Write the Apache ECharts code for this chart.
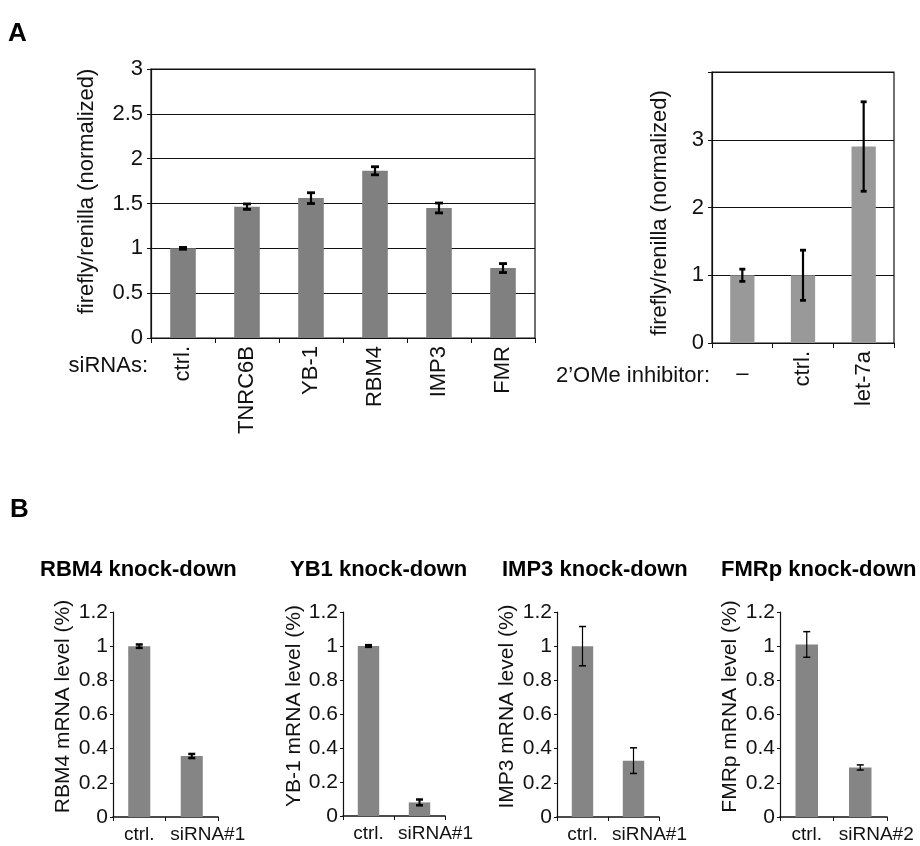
<!DOCTYPE html>
<html>
<head>
<meta charset="utf-8">
<script src="https://cdn.jsdelivr.net/npm/echarts@6/dist/echarts.min.js"></script>
<style>
html,body{margin:0;padding:0;background:#fff;}
#chart{width:920px;height:846px;}
</style>
</head>
<body>
<div id="chart"></div>
<script>
// ---------- DATA ----------
const siRNAs = ['ctrl.', 'TNRC6B', 'YB-1', 'RBM4', 'IMP3', 'FMR'];
const siRNAValues = [1.0, 1.465, 1.56, 1.865, 1.45, 0.78];
const siRNAErrors = [0.01, 0.03, 0.06, 0.045, 0.055, 0.05];
const siRNATicks = [0, 0.5, 1, 1.5, 2, 2.5, 3];

const inhibitors = ['–', 'ctrl.', 'let-7a'];
const inhibitorValues = [1.0, 1.0, 2.9];
const inhibitorErrors = [0.09, 0.37, 0.66];
const inhibitorTicks = [0, 1, 2, 3];

const kdTitles = ['RBM4 knock-down', 'YB1 knock-down', 'IMP3 knock-down', 'FMRp knock-down'];
const kdAxisNames = ['RBM4 mRNA level (%)', 'YB-1 mRNA level (%)', 'IMP3 mRNA level (%)', 'FMRp mRNA level (%)'];
const rbm4Categories = ['ctrl.', 'siRNA#1'];
const rbm4Values = [1.0, 0.357];
const rbm4Errors = [0.01, 0.012];
const yb1Categories = ['ctrl.', 'siRNA#1'];
const yb1Values = [1.0, 0.08];
const yb1Errors = [0.005, 0.017];
const imp3Categories = ['ctrl.', 'siRNA#1'];
const imp3Values = [1.0, 0.33];
const imp3Errors = [0.115, 0.075];
const fmrpCategories = ['ctrl.', 'siRNA#2'];
const fmrpValues = [1.01, 0.29];
const fmrpErrors = [0.075, 0.015];
const kdTicks = ['0', '0.2', '0.4', '0.6', '0.8', '1', '1.2'];

// ---------- CHART ----------
const FONT = "'Liberation Sans', Arial, Helvetica, sans-serif";
const chart = echarts.init(document.getElementById('chart'), null, {renderer: 'canvas'});

function errData(vals, errs) {
  return vals.map((v, i) => [i, v - errs[i], v + errs[i]]);
}
function errRender(capHalf, lw, capLw) {
  return function (params, api) {
    const x = api.value(0);
    const p1 = api.coord([x, api.value(1)]);
    const p2 = api.coord([x, api.value(2)]);
    const st = {stroke: '#000', lineWidth: lw};
    const cst = {stroke: '#000', lineWidth: capLw};
    return {
      type: 'group',
      children: [
        {type: 'line', shape: {x1: p1[0], y1: p1[1], x2: p2[0], y2: p2[1]}, style: st},
        {type: 'line', shape: {x1: p1[0] - capHalf, y1: p1[1], x2: p1[0] + capHalf, y2: p1[1]}, style: cst},
        {type: 'line', shape: {x1: p2[0] - capHalf, y1: p2[1], x2: p2[0] + capHalf, y2: p2[1]}, style: cst}
      ]
    };
  };
}

const black = '#111';
const axisLineStyle = {lineStyle: {color: black, width: 1.2}};

const grids = [
  {left: 151, top: 69, width: 384, height: 269, show: true, borderColor: black, borderWidth: 1.2},
  {left: 712, top: 72, width: 182, height: 271, show: true, borderColor: black, borderWidth: 1.2},
  {left: 113, top: 612, width: 105, height: 205},
  {left: 343, top: 612, width: 102, height: 204},
  {left: 557, top: 612, width: 102, height: 205},
  {left: 780, top: 612, width: 107, height: 205}
];

const kdCats = [rbm4Categories, yb1Categories, imp3Categories, fmrpCategories];
const kdVals = [rbm4Values, yb1Values, imp3Values, fmrpValues];
const kdErrs = [rbm4Errors, yb1Errors, imp3Errors, fmrpErrors];
const kdLw = [2, 2, 1.2, 1.2];
const kdCapLw = [2.5, 2.5, 1.5, 1.5];

const xAxes = [
  {gridIndex: 0, type: 'category', data: siRNAs, axisLine: axisLineStyle,
   axisTick: {show: true, length: 5, interval: 0, lineStyle: {color: black}},
   axisLabel: {rotate: 90, margin: 8, fontSize: 22, color: black, fontFamily: FONT, interval: 0}},
  {gridIndex: 1, type: 'category', data: inhibitors, axisLine: axisLineStyle,
   axisTick: {show: true, length: 5, interval: 0, lineStyle: {color: black}},
   axisLabel: {rotate: 90, margin: 8, fontSize: 22, color: black, fontFamily: FONT, interval: 0,
     formatter: v => (v === '–' ? '' : v)}}
];
const yAxes = [
  {gridIndex: 0, type: 'value', min: 0, max: 3, interval: 0.5,
   axisLine: {show: true, lineStyle: {color: black, width: 1.2}},
   axisTick: {show: true, length: 4, lineStyle: {color: black}},
   splitLine: {show: true, lineStyle: {color: black, width: 1}},
   axisLabel: {margin: 8, fontSize: 22, color: black, fontFamily: FONT,
     formatter: v => String(siRNATicks.find(t => Math.abs(t - v) < 1e-6) ?? v)},
   name: 'firefly/renilla (normalized)', nameLocation: 'middle', nameGap: 64, nameRotate: 90,
   nameTextStyle: {fontSize: 22, color: black, fontFamily: FONT, verticalAlign: 'middle', padding: [0, 0, 0, 24]}},
  {gridIndex: 1, type: 'value', min: 0, max: 4, interval: 1,
   axisLine: {show: true, lineStyle: {color: black, width: 1.2}},
   axisTick: {show: true, length: 4, lineStyle: {color: black}},
   splitLine: {show: true, lineStyle: {color: black, width: 1}},
   axisLabel: {margin: 8, fontSize: 22, color: black, fontFamily: FONT,
     formatter: v => (inhibitorTicks.indexOf(v) >= 0 ? String(v) : '')},
   name: 'firefly/renilla (normalized)', nameLocation: 'middle', nameGap: 52, nameRotate: 90,
   nameTextStyle: {fontSize: 22, color: black, fontFamily: FONT, verticalAlign: 'middle', padding: [0, 11, 0, 0]}}
];

const series = [
  {type: 'bar', xAxisIndex: 0, yAxisIndex: 0, data: siRNAValues, barWidth: '40%',
   itemStyle: {color: '#808080'}, silent: true},
  {type: 'custom', xAxisIndex: 0, yAxisIndex: 0, data: errData(siRNAValues, siRNAErrors),
   renderItem: errRender(4, 2.2, 2.8), z: 5, silent: true},
  {type: 'bar', xAxisIndex: 1, yAxisIndex: 1, data: inhibitorValues, barWidth: '40%',
   itemStyle: {color: '#999999'}, silent: true},
  {type: 'custom', xAxisIndex: 1, yAxisIndex: 1, data: errData(inhibitorValues, inhibitorErrors),
   renderItem: errRender(3, 2.2, 2.8), z: 5, silent: true}
];

const titles = [
  {text: 'A', left: 8, top: 21, padding: 0, textStyle: {fontSize: 26, fontWeight: 'bold', color: '#000', fontFamily: FONT}},
  {text: 'B', left: 10, top: 497, padding: 0, textStyle: {fontSize: 26, fontWeight: 'bold', color: '#000', fontFamily: FONT}}
];
const titleLefts = [40, 290, 502, 721];
const nameGaps = [50, 49, 50, 50];

for (let k = 0; k < 4; k++) {
  const g = k + 2;
  titles.push({text: kdTitles[k], left: titleLefts[k], top: 559, padding: 0,
    textStyle: {fontSize: 22, fontWeight: 'bold', color: '#000', fontFamily: FONT}});
  xAxes.push({gridIndex: g, type: 'category', data: kdCats[k],
    axisLine: {lineStyle: {color: black, width: 1.6}},
    axisTick: {show: true, length: 4, interval: 0, lineStyle: {color: black}},
    axisLabel: {margin: 8, fontSize: 19, color: black, fontFamily: FONT, interval: 0,
      formatter: (v, i) => (i === 0 ? v : '{s|' + v + '}'),
      rich: {s: {fontSize: 19, color: black, fontFamily: FONT, padding: [0, 0, 0, 32]}}}});
  yAxes.push({gridIndex: g, type: 'value', min: 0, max: 1.2, interval: 0.2,
    axisLine: {show: true, lineStyle: {color: black, width: 1.2}},
    axisTick: {show: true, length: 3, lineStyle: {color: black}},
    splitLine: {show: false},
    axisLabel: {margin: 5, fontSize: 21, color: black, fontFamily: FONT,
      formatter: v => kdTicks[Math.round(v / 0.2)]},
    name: kdAxisNames[k], nameLocation: 'middle', nameGap: nameGaps[k], nameRotate: 90,
    nameTextStyle: {fontSize: 21, color: black, fontFamily: FONT, verticalAlign: 'middle', padding: [0, 0, 0, 16]}});
  series.push({type: 'bar', xAxisIndex: g, yAxisIndex: g, data: kdVals[k], barWidth: '42%',
    itemStyle: {color: '#858585'}, silent: true});
  series.push({type: 'custom', xAxisIndex: g, yAxisIndex: g, data: errData(kdVals[k], kdErrs[k]),
    renderItem: errRender(3.5, kdLw[k], kdCapLw[k]), z: 5, silent: true});
}

chart.setOption({
  animation: false,
  backgroundColor: '#fff',
  textStyle: {fontFamily: FONT},
  title: titles,
  grid: grids,
  xAxis: xAxes,
  yAxis: yAxes,
  series: series
});

// Axis captions and the horizontal dash label, placed from the axes' own coordinates
const g1 = chart.convertToPixel({gridIndex: 1}, [0, 0]);
chart.setOption({
  graphic: [
    {type: 'text', x: 148, y: 366, style: {text: 'siRNAs:', fontSize: 22, fill: black, fontFamily: FONT,
      align: 'right', verticalAlign: 'middle'}},
    {type: 'text', x: 710, y: 376, style: {text: '2’OMe inhibitor:', fontSize: 22, fill: black, fontFamily: FONT,
      align: 'right', verticalAlign: 'middle'}},
    {type: 'text', x: g1[0], y: g1[1] + 31, style: {text: inhibitors[0], fontSize: 22, fill: black, fontFamily: FONT,
      align: 'center', verticalAlign: 'middle'}}
  ]
});
</script>
</body>
</html>
